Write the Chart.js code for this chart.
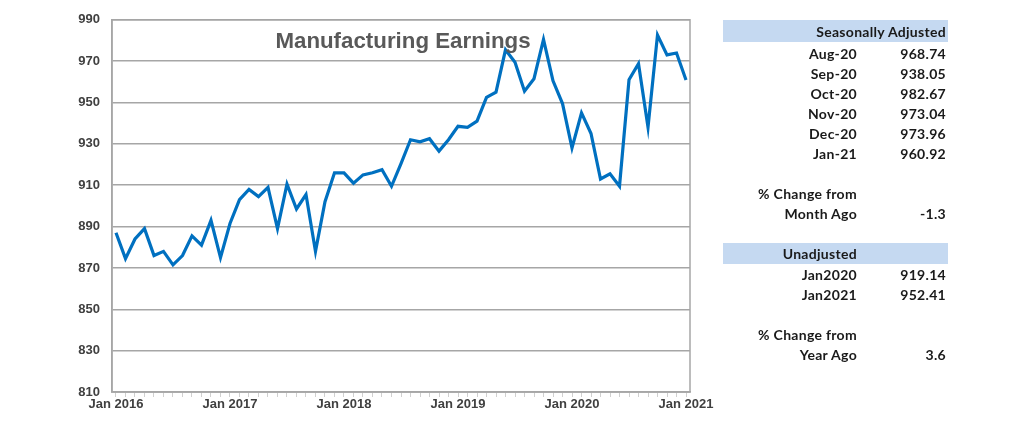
<!DOCTYPE html>
<html>
<head>
<meta charset="utf-8">
<script src="https://cdn.jsdelivr.net/npm/chart.js@4"></script>
<style>
  body { margin: 0; background: #fff; }
  #wrap { position: relative; width: 1035px; height: 447px; overflow: hidden; }
  #chartBox { position: absolute; left: 0; top: 0; width: 740px; height: 447px; }
  .cell { position: absolute; height: 20px; line-height: 20px; font-family: Lato, "Open Sans", sans-serif;
          font-weight: bold; font-size: 14px; color: #1a1a1a; white-space: nowrap; letter-spacing: 0.3px; }
  .bar { position: absolute; left: 723px; width: 225px; background: #c5d9f1; }
</style>
</head>
<body>
<div id="wrap">
  <div id="chartBox"><canvas id="earnings-chart"></canvas></div>
  <div id="table"></div>
</div>
<script>
/*==== data ====*/
// monthly average weekly earnings, Jan 2016 .. Jan 2021
const earnings = [
    887, 874.5, 884, 889, 876, 878, 871.5, 876, 885.5, 881, 893, 875,
    891.5, 903, 908, 904.5, 909, 889, 910.5, 898.5, 905.5, 878, 902, 916,
    916, 911, 915, 916, 917.5, 909.5, 920.5, 932, 931, 932.5, 926.5, 932,
    938.5, 938, 941, 952.5, 955, 975.5, 969.5, 955.5, 961.5, 980.5, 960.5, 949.5,
    928, 945, 935, 913, 915.5, 909.5, 961, 968.74, 938.05, 982.67, 973.04, 973.96,
    960.92
];
const yearTicks = ['Jan 2016', 'Jan 2017', 'Jan 2018', 'Jan 2019', 'Jan 2020', 'Jan 2021'];
const yTicks = [810, 830, 850, 870, 890, 910, 930, 950, 970, 990];

// side table
const saMonths = ['Aug-20', 'Sep-20', 'Oct-20', 'Nov-20', 'Dec-20', 'Jan-21'];
const saValues = ['968.74', '938.05', '982.67', '973.04', '973.96', '960.92'];
const monthChange = '-1.3';
const unadjMonths = ['Jan2020', 'Jan2021'];
const unadjValues = ['919.14', '952.41'];
const yearChange = '3.6';

/*==== side table ====*/
var tableEl = document.getElementById('table');
function addBar(top, h) {
    var d = document.createElement('div');
    d.className = 'bar';
    d.style.top = top + 'px';
    d.style.height = h + 'px';
    tableEl.appendChild(d);
}
function addText(txt, right, cy) {
    var d = document.createElement('div');
    d.className = 'cell';
    d.textContent = txt;
    d.style.right = (1035 - right) + 'px';
    d.style.top = (cy - 10) + 'px';
    tableEl.appendChild(d);
}
var labRight = 857, valRight = 946;
addBar(20, 22);
addText('Seasonally Adjusted', valRight, 32);
for (var i = 0; i < saMonths.length; i++) {
    addText(saMonths[i], labRight, 54 + i * 20);
    addText(saValues[i], valRight, 54 + i * 20);
}
addText('% Change from', labRight, 194);
addText('Month Ago', labRight, 214);
addText(monthChange, valRight, 214);
addBar(243, 21);
addText('Unadjusted', labRight, 254);
for (var j = 0; j < unadjMonths.length; j++) {
    addText(unadjMonths[j], labRight, 275 + j * 20);
    addText(unadjValues[j], valRight, 275 + j * 20);
}
addText('% Change from', labRight, 335);
addText('Year Ago', labRight, 355);
addText(yearChange, valRight, 355);

/*==== chart ====*/
const points = earnings.map(function (v, i) { return { x: i, y: v }; });

const plotFrame = {
    id: 'plotFrame',
    afterDraw: function (chart) {
        var a = chart.chartArea, ctx = chart.ctx;
        ctx.save();
        ctx.strokeStyle = '#a6a6a6';
        ctx.lineWidth = 1.5;
        ctx.strokeRect(a.left, a.top, a.right - a.left, a.bottom - a.top);
        ctx.fillStyle = '#595959';
        ctx.font = 'bold 22.3px "Liberation Sans", Arial, sans-serif';
        ctx.textAlign = 'center';
        ctx.textBaseline = 'alphabetic';
        ctx.fillText('Manufacturing Earnings', (a.left + a.right) / 2 + 2, a.top + 28);
        ctx.restore();
    }
};

const config_earnings = {
    type: 'line',
    data: {
        datasets: [{
            data: points,
            borderColor: '#0070c0',
            borderWidth: 3.2,
            pointRadius: 0,
            tension: 0,
            fill: false
        }]
    },
    options: {
        responsive: true,
        maintainAspectRatio: false,
        animation: false,
        layout: { padding: { top: 19, right: 50, left: 0, bottom: 0 } },
        plugins: { legend: { display: false }, tooltip: { enabled: false }, title: { display: false } },
        scales: {
            x: {
                type: 'linear',
                min: -0.42,
                max: 60.42,
                afterBuildTicks: function (scale) {
                    scale.ticks = earnings.map(function (v, i) { return { value: i }; });
                },
                afterFit: function (scale) {
                    scale.height = 55;
                    scale.paddingLeft = 0;
                    scale.paddingRight = 0;
                },
                ticks: {
                    autoSkip: false,
                    maxRotation: 0,
                    padding: 0,
                    color: '#404040',
                    font: { family: '"Liberation Sans", Arial, sans-serif', weight: 'bold', size: 13 },
                    callback: function (value) {
                        return value % 12 === 0 ? yearTicks[value / 12] : '';
                    }
                },
                grid: { drawOnChartArea: false, drawTicks: true, tickLength: 5, color: '#d0d0d0' },
                border: { display: true, color: '#a6a6a6', width: 1.5 }
            },
            y: {
                min: 810,
                max: 990,
                afterBuildTicks: function (scale) {
                    scale.ticks = yTicks.map(function (v) { return { value: v }; });
                },
                afterFit: function (scale) { scale.width = 112; },
                ticks: {
                    padding: 12,
                    color: '#404040',
                    font: { family: '"Liberation Sans", Arial, sans-serif', weight: 'bold', size: 13 }
                },
                grid: { drawTicks: false, color: '#a6a6a6', lineWidth: 1.5 },
                border: { display: true, color: '#a6a6a6', width: 1.5 }
            }
        }
    },
    plugins: [plotFrame]
};

/*===== render =====*/
var earningsChart = new Chart(document.getElementById('earnings-chart'), config_earnings);
</script>
</body>
</html>
